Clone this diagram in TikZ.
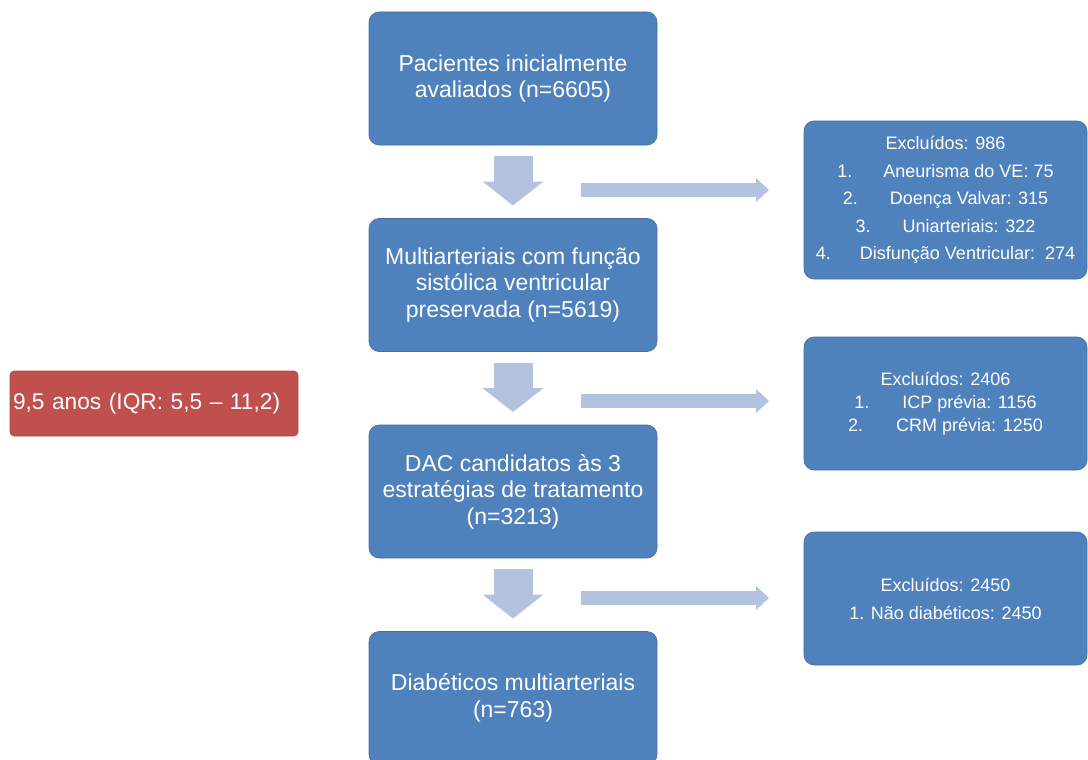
\documentclass[tikz,border=0pt]{standalone}
\usepackage{fontspec}
\setmainfont{Liberation Sans}
\usetikzlibrary{positioning,arrows.meta}
\definecolor{boxblue}{HTML}{4F81BD}
\definecolor{boxred}{HTML}{C0504D}
\definecolor{flowblue}{HTML}{B3C2DE}
\begin{document}
\begin{tikzpicture}[x=1pt,y=-1pt,node distance=73.5pt,
    main box/.style={rounded corners=10pt,fill=boxblue,draw=boxblue!85!black,line width=0.6pt,
        outer sep=0pt,text=white,align=center,minimum width=288pt,minimum height=133pt,
        font=\fontsize{23}{26.5}\selectfont},
    excl box/.style={main box,minimum width=283pt,font=\fontsize{18}{23}\selectfont},
    down flow/.style={draw=flowblue,line width=39pt,shorten <=11pt,shorten >=13pt,
        -{Triangle[length=24pt,width=61pt,line width=0pt]}},
    side flow/.style={draw=flowblue,line width=14pt,shorten >=35pt,
        -{Triangle[length=13pt,width=24pt,line width=0pt]}}]

        \useasboundingbox (0,0) rectangle (1088,760);

        % Define boxes
        \node[main box] (pac) at (513,78.5) {Pacientes inicialmente\\avaliados (n=6605)};
        \node[main box] (multi) [below=of pac] {Multiarteriais com função\\sistólica ventricular\\preservada (n=5619)};
        \node[main box] (dac) [below=of multi] {DAC candidatos às 3\\estratégias de tratamento\\(n=3213)};
        \node[main box] (diab) [below=of dac] {Diabéticos multiarteriais\\(n=763)};

        \node[excl box,minimum height=158pt,font=\fontsize{18}{27.5}\selectfont] (exA) at (945.5,200)
            {Excluídos: 986\\
             1.\hspace{31pt}Aneurisma do VE: 75\\
             2.\hspace{32pt}Doença Valvar: 315\\
             3.\hspace{32pt}Uniarteriais: 322\\
             4.\hspace{29pt}Disfunção Ventricular:\ \ 274};
        \node[excl box] (exB) at (945.5,403.5)
            {Excluídos: 2406\\
             1.\hspace{33pt}ICP prévia: 1156\\
             2.\hspace{33pt}CRM prévia: 1250};
        \node[excl box,font=\fontsize{18}{28}\selectfont] (exC) at (945.5,598.5)
            {Excluídos: 2450\\1. Não diabéticos: 2450};

        \node[rounded corners=4pt,fill=boxred,draw=boxred!90!black,line width=0.6pt,text=white,
              minimum height=65pt,text width=282pt,inner sep=3pt,align=left,
              font=\fontsize{22.7}{26}\selectfont] (fup) at (154,403.5) {9,5 anos (IQR: 5,5 – 11,2)};

        \coordinate (s1) at (581,190);
        \coordinate (s2) at (581,401);
        \coordinate (s3) at (581,598);

        % Draw flows
        \draw[down flow] (pac) -- (multi);
        \draw[down flow] (multi) -- (dac);
        \draw[down flow] (dac) -- (diab);
        \draw[side flow] (s1) -- (s1 -| exA.west);
        \draw[side flow] (s2) -- (s2 -| exB.west);
        \draw[side flow] (s3) -- (s3 -| exC.west);

\end{tikzpicture}
\end{document}
